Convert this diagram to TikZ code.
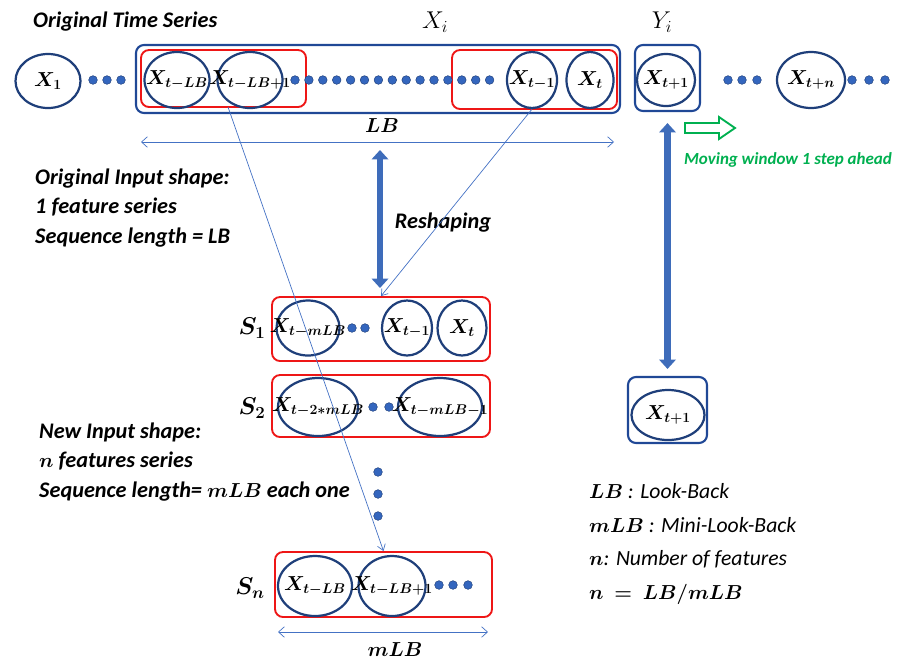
\documentclass[tikz,border=0pt]{standalone}
\usepackage{amsmath}
\usepackage{bm}
\usepackage{fontspec}
\setmainfont{Carlito}
\usetikzlibrary{shapes.geometric,arrows.meta,calc}
\DeclareMathSizes{16}{16}{12}{9}
\definecolor{navy}{RGB}{31,63,122}
\definecolor{boxblue}{RGB}{32,72,150}
\definecolor{redbox}{RGB}{238,22,22}
\definecolor{dotblue}{RGB}{52,102,190}
\definecolor{thinblue}{RGB}{68,114,196}
\definecolor{fatblue}{RGB}{62,108,186}
\definecolor{grn}{RGB}{0,176,80}
\newcommand\tbf{\fontsize{19pt}{25.5pt}\selectfont\bfseries\itshape}
\newcommand\mfnt{\fontsize{16pt}{18pt}\selectfont\boldmath}
\newcommand\lfnt{\fontsize{18pt}{20pt}\selectfont\boldmath}
\newcommand\ec[1]{\makebox[0pt]{$#1$}}
\begin{document}
\begin{tikzpicture}[x=0.03cm,y=-0.03cm,
  el/.style 2 args={draw=navy, line width=1.9pt, ellipse, inner sep=0pt,
    minimum width=#1*0.03cm, minimum height=#2*0.03cm, font=\mfnt},
  bbox/.style 2 args={draw=boxblue, line width=1.8pt, rectangle, rounded corners=0.24cm,
    inner sep=0pt, minimum width=#1*0.03cm, minimum height=#2*0.03cm},
  rbox/.style 2 args={draw=redbox, line width=1.6pt, rectangle, rounded corners=0.24cm,
    inner sep=0pt, minimum width=#1*0.03cm, minimum height=#2*0.03cm},
  thin/.style={draw=thinblue, line width=0.6pt},
  fat/.style={draw=fatblue, line width=5.5pt, {Triangle[width=14pt,length=8pt]}-{Triangle[width=14pt,length=8pt]}},
  dotc/.style={fill=dotblue, draw=navy, line width=0.4pt},
  lbl/.style={inner sep=0pt, font=\lfnt},
  txt/.style={inner sep=0pt, font=\tbf, align=left}
]
\useasboundingbox (0,0) rectangle (906,660);

% titles
\node[txt, anchor=west] (title) at (33,22) {Original Time Series};
\node[inner sep=0pt, font=\fontsize{21pt}{24pt}\selectfont] (xi) at (435,22) {$X_i$};
\node[inner sep=0pt, font=\fontsize{21pt}{24pt}\selectfont] (yi) at (662,22) {$Y_i$};

% top row boxes
\node[bbox={484}{68}] (big) at (378,79) {};
\node[rbox={165}{57}] (rl) at (223.5,78.5) {};
\node[rbox={165}{59}] (rr) at (534.5,79.5) {};
\node[bbox={65}{66}] (ybox) at (667.5,78) {};

% top row ellipses
\node[el={65}{54}] (x1) at (48,81) {\ec{X_1}};
\node[el={65}{56}] (xtlb) at (177,80) {\ec{X_{t-LB}}};
\node[el={65}{56}] (xtlb1) at (250,80) {\ec{X_{t-LB+1}}};
\node[el={50}{56}] (xtm1) at (532,80) {\ec{X_{t-1}}};
\node[el={47}{56}] (xt) at (590,80) {\ec{X_t}};
\node[el={58}{52}] (xtp1) at (666,80) {\ec{X_{t+1}}};
\node[el={68}{56}] (xtn) at (811,80) {\ec{X_{t+n}}};

% top row dots
\foreach \x in {93,107,121,728,742,757,852,869,885}
  \filldraw[dotc] (\x,80) circle[radius=0.13cm];
\foreach \i in {0,...,14}
  \filldraw[dotc] (295+13.9*\i,80) circle[radius=0.13cm];

% LB arrow
\coordinate (lbl) at (141,142);
\coordinate (lbr) at (614,142);
\draw[thin, {Straight Barb[length=5pt,width=9pt]}-{Straight Barb[length=5pt,width=9pt]}] (lbl) -- (lbr);
\node[lbl] (lb) at (382,126) {$LB$};

% reshaping
\coordinate (rsT) at (380,150);
\coordinate (rsB) at (380,288);
\draw[fat] (rsT) -- (rsB);
\node[txt] (resh) at (443,223) {Reshaping};

% green moving arrow
\draw[draw=grn, line width=1.6pt, line join=miter]
  (685,123) -- (719,123) -- (719,117) -- (735,128) -- (719,139) -- (719,133) -- (685,133) -- cycle;
\node[inner sep=0pt, font=\fontsize{14.5pt}{17pt}\selectfont\bfseries\itshape, text=grn] (mov) at (788,160) {Moving window 1 step ahead};

% left descriptions
\node[txt, anchor=west] (orig) at (35,208) {Original Input shape:\\1 feature series\\Sequence length = LB};
\node[txt, anchor=west, font=\tbf\boldmath] (newin) at (39,462) {New Input shape:\\$n$ features series\\Sequence length= $mLB$ each one};

% S boxes
\node[rbox={218}{64}] (s1) at (381,329) {};
\node[rbox={218}{62}] (s2) at (381,406) {};
\node[rbox={217}{65}] (sn) at (383.5,584.5) {};
\node[lbl, font=\fontsize{20pt}{22pt}\selectfont\boldmath] (s1l) at (252,328) {$S_1$};
\node[lbl, font=\fontsize{20pt}{22pt}\selectfont\boldmath] (s2l) at (252,408) {$S_2$};
\node[lbl, font=\fontsize{20pt}{22pt}\selectfont\boldmath] (snl) at (250,588) {$S_n$};

\node[el={63}{55}] (a1) at (308,328) {\ec{X_{t-mLB}}};
\node[el={50}{55}] (a2) at (407,328) {\ec{X_{t-1}}};
\node[el={49}{55}] (a3) at (462,328) {\ec{X_t}};
\foreach \x in {352,365} \filldraw[dotc] (\x,328) circle[radius=0.13cm];

\node[el={80}{58}] (b1) at (318,407) {\ec{X_{t-2*mLB}}};
\node[el={84}{58}] (b2) at (440,407) {\ec{X_{t-mLB-1}}};
\foreach \x in {373,389} \filldraw[dotc] (\x,407) circle[radius=0.13cm];

\foreach \y in {472,494,516} \filldraw[dotc] (378,\y) circle[radius=0.13cm];

\node[el={74}{60}] (c1) at (315,586) {\ec{X_{t-LB}}};
\node[el={67}{60}] (c2) at (392,586) {\ec{X_{t-LB+1}}};
\foreach \x in {439,453,468} \filldraw[dotc] (\x,585) circle[radius=0.13cm];

% mLB arrow
\coordinate (mlbl) at (278,632);
\coordinate (mlbr) at (488,632);
\draw[thin, {Straight Barb[length=5pt,width=9pt]}-{Straight Barb[length=5pt,width=9pt]}] (mlbl) -- (mlbr);
\node[lbl] (mlb) at (395,650) {$mLB$};

% mapping lines
\coordinate (startl) at (228,107);
\draw[thin, -{Straight Barb[length=5pt,width=7pt]}] (startl) -- (sn.north);
\draw[thin, -{Straight Barb[length=5pt,width=7pt]}] (xtm1.south) -- (s1.north);

% right output
\node[bbox={79}{66}] (ybot) at (667.5,410) {};
\node[el={73}{50}] (yb) at (668,415) {\ec{X_{t+1}}};
\draw[fat, shorten <=0.33cm, shorten >=0.21cm] (ybox.south) -- (ybot.north);

% legend
\node[inner sep=0pt, anchor=west, align=left, font=\fontsize{18.5pt}{29pt}\selectfont\itshape] (leg) at (589,544)
 {{\fontsize{16pt}{18pt}\selectfont\boldmath$LB$} : Look-Back\\
  {\fontsize{16pt}{18pt}\selectfont\boldmath$mLB$} : Mini-Look-Back\\
  {\fontsize{16pt}{18pt}\selectfont\boldmath$n$}: Number of features\\
  {\fontsize{16pt}{18pt}\selectfont\boldmath$n\ =\ LB/mLB$}};
\end{tikzpicture}
\end{document}
